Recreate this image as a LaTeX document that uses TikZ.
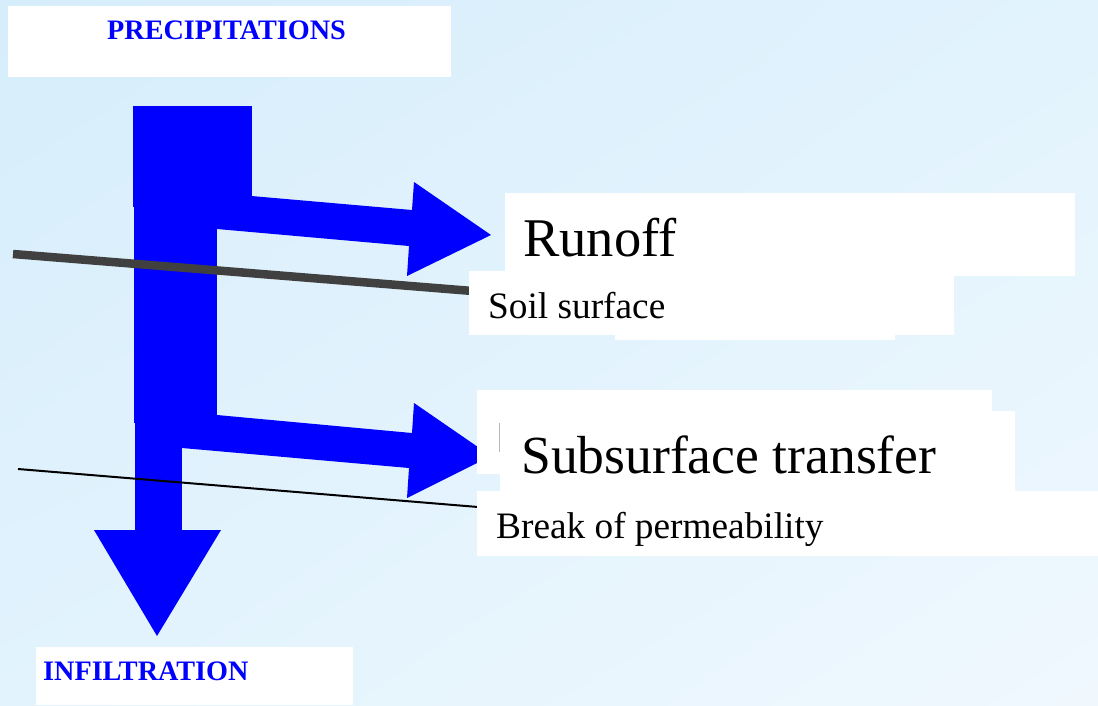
\documentclass[tikz,border=0pt]{standalone}
\usepackage{fontspec}
\setmainfont{Liberation Serif}
\usetikzlibrary{shadings}
\definecolor{flow}{RGB}{0,0,255}
\definecolor{bgA}{RGB}{214,237,251}
\definecolor{bgM}{RGB}{226,243,253}
\definecolor{bgB}{RGB}{240,248,254}
\definecolor{soil}{RGB}{64,64,64}
\begin{document}
\begin{tikzpicture}[x=1pt,y=-1pt,
  flowfill/.style={fill=flow},
  whitebox/.style={fill=white},
  biglbl/.style={inner sep=0pt,anchor=base west,font=\fontsize{54.5}{60}\selectfont},
  widelbl/.style={inner sep=0pt,anchor=base west,font=\fontsize{53.6}{60}\selectfont},
  smalllbl/.style={inner sep=0pt,anchor=base west,font=\fontsize{37.3}{42}\selectfont},
  caplbl/.style={inner sep=0pt,anchor=base west,text=flow,font=\fontsize{28.2}{32}\selectfont\bfseries},
  soilline/.style={draw=soil,line width=8.5pt},
  breakline/.style={draw=black,line width=2pt}]
\useasboundingbox (0,0) rectangle (1098,705);
% sky-blue backdrop
\shade[upper left=bgA,upper right=bgM,lower left=bgM,lower right=bgB] (0,0) rectangle (1098,705);

% key points of the flow arrows
\coordinate (runA) at (217,193);
\coordinate (runB) at (412,210);
\coordinate (runC) at (414,182);
\coordinate (runTip) at (491,235);
\coordinate (runD) at (407,276);
\coordinate (runE) at (409,246);
\coordinate (runF) at (217,229);
\coordinate (subA) at (217,415);
\coordinate (subB) at (412,433);
\coordinate (subC) at (414,403);
\coordinate (subTip) at (491,456);
\coordinate (subD) at (407,498);
\coordinate (subE) at (409,468);
\coordinate (subF) at (182,448);
\coordinate (subG) at (182,415);
\coordinate (infL) at (94,530);
\coordinate (infR) at (221,530);
\coordinate (infTip) at (157,636);

% rain column and its branches
\fill[flowfill] (133,106) rectangle (252,207);
\fill[flowfill] (134,206) rectangle (217,423);
\fill[flowfill] (135,422) rectangle (182,531);
\fill[flowfill] (runA) -- (runB) -- (runC) -- (runTip) -- (runD) -- (runE) -- (runF) -- cycle;
\fill[flowfill] (subA) -- (subB) -- (subC) -- (subTip) -- (subD) -- (subE) -- (subF) -- (subG) -- cycle;
\fill[flowfill] (infL) -- (infR) -- (infTip) -- cycle;

% ground horizons
\coordinate (soilW) at (13,254);
\coordinate (soilE) at (470,290.8);
\coordinate (breakW) at (18,469);
\coordinate (breakE) at (478,507);
\draw[soilline] (soilW) -- (soilE);
\draw[breakline] (breakW) -- (breakE);

% label panels
\fill[whitebox] (8,6) rectangle (451,77);
\fill[whitebox] (505,193) rectangle (1075,276);
\fill[whitebox] (615,300) rectangle (895,340);
\fill[whitebox] (469,271) rectangle (954,335);
\fill[whitebox] (477,390) rectangle (992,474);
\draw[gray!55,line width=1.5pt] (499.5,423) -- (499.5,452);
\fill[whitebox] (500,411) rectangle (1015,491);
\fill[whitebox] (477,491) rectangle (1098,556);
\fill[whitebox] (36,647) rectangle (353,705);

% labels
\node[caplbl] (precip) at (107,39) {PRECIPITATIONS};
\node[biglbl] (runoff) at (523,256) {Runoff};
\node[smalllbl] (soiltxt) at (488,318) {Soil surface};
\node[widelbl] (subsurf) at (521,473) {Subsurface transfer};
\node[smalllbl] (breaktxt) at (496,538) {Break of permeability};
\node[caplbl] (infil) at (43,680) {INFILTRATION};
\end{tikzpicture}
\end{document}
